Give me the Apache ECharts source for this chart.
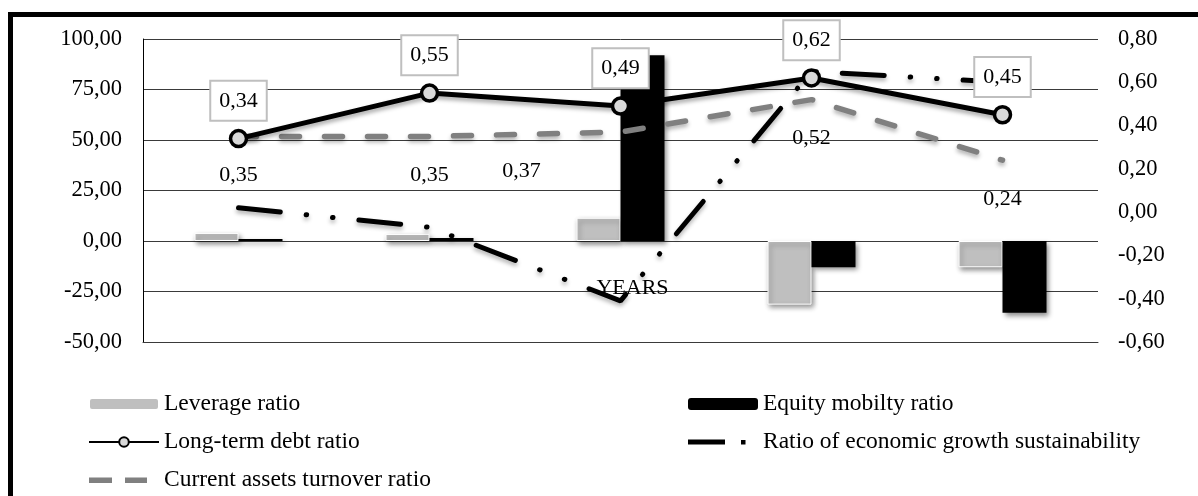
<!DOCTYPE html>
<html>
<head>
<meta charset="utf-8">
<script src="https://cdn.jsdelivr.net/npm/echarts@6/dist/echarts.min.js"></script>
<style>
  html, body { margin: 0; padding: 0; background: #fff; }
  #chart { width: 1198px; height: 496px; }
</style>
</head>
<body>
<div id="chart"></div>
<script>
// ---- data ----
var categories = ['Year 1', 'Year 2', 'Year 3', 'Year 4', 'Year 5'];
var leverageRatio = [4, 3.5, 11.5, -31.5, -13];
var equityMobilityRatio = [1, 1.5, 92, -13, -35.5];
var longTermDebtRatio = [0.34, 0.55, 0.49, 0.62, 0.45];
var currentAssetsTurnover = [0.35, 0.35, 0.37, 0.52, 0.24];
var growthSustainability = [0.02, -0.07, -0.41, 0.65, 0.60];
var leftTicks = { min: -50, max: 100, interval: 25 };
var rightTicks = { min: -0.6, max: 0.8, interval: 0.2 };

var FONT = 'Liberation Serif';
function comma(v) { return v.toFixed(2).replace('.', ','); }

var chart = echarts.init(document.getElementById('chart'), null, { renderer: 'canvas' });

var shadow = { shadowColor: 'rgba(0,0,0,0.45)', shadowBlur: 5, shadowOffsetX: 2, shadowOffsetY: 3 };

var currentData = currentAssetsTurnover.map(function (v, i) {
  var d = { value: v };
  if (i === 2) d.label = { offset: [-99, 0] };
  return d;
});

var legendText = { fontFamily: FONT, fontSize: 23.5, lineHeight: 24, color: '#000' };
var iconDashDot = 'path://M0,0L0,0M0,3.5h37v5h-37zM53,4h4.5v4.5h-4.5zM70,12L70,12';
var iconDashes = 'path://M0,0L0,0M0,3.5h23v5.5h-23zM36,3.5h22v5.5h-22zM70,12L70,12';

var option = {
  backgroundColor: '#fff',
  animation: false,
  textStyle: { fontFamily: FONT, color: '#000' },
  graphic: [{
    type: 'rect',
    shape: { x: 10.5, y: 14.5, width: 1220, height: 520 },
    style: { fill: null, stroke: '#000', lineWidth: 5 },
    silent: true
  }],
  grid: { left: 143, right: 100, top: 39, bottom: 154, containLabel: false },
  legend: [{
    orient: 'vertical',
    left: 88, top: 392, height: 104, padding: 0,
    itemWidth: 70, itemHeight: 12, itemGap: 14,
    textStyle: legendText,
    data: [
      { name: 'Leverage ratio' },
      { name: 'Long-term debt ratio' },
      { name: 'Current assets turnover ratio', icon: iconDashes }
    ]
  }, {
    orient: 'vertical',
    left: 688, top: 392, height: 104, padding: 0,
    itemWidth: 70, itemHeight: 12, itemGap: 14,
    textStyle: legendText,
    data: [
      { name: 'Equity mobilty ratio' },
      { name: 'Ratio of economic growth sustainability', icon: iconDashDot }
    ]
  }],
  xAxis: {
    type: 'category',
    data: categories,
    name: 'YEARS',
    nameLocation: 'middle',
    nameGap: -65,
    nameTextStyle: { fontFamily: FONT, fontSize: 22, color: '#000', padding: [0, 0, 0, 24] },
    axisLine: { show: true, onZero: false, lineStyle: { color: '#3a3a3a', width: 1 } },
    axisTick: { show: false },
    axisLabel: { show: false },
    splitLine: { show: false }
  },
  yAxis: [{
    type: 'value',
    min: leftTicks.min, max: leftTicks.max, interval: leftTicks.interval,
    axisLine: { show: true, lineStyle: { color: '#000', width: 1 } },
    axisTick: { show: false },
    axisLabel: { fontFamily: FONT, fontSize: 22.5, color: '#000', margin: 21, formatter: comma },
    splitLine: { show: true, lineStyle: { color: '#3a3a3a', width: 1 } }
  }, {
    type: 'value',
    position: 'right',
    min: rightTicks.min, max: rightTicks.max, interval: rightTicks.interval,
    axisLine: { show: false },
    axisTick: { show: false },
    axisLabel: { fontFamily: FONT, fontSize: 22.5, color: '#000', margin: 20,
      formatter: function (v) { return comma(Math.round(v * 100) / 100); } },
    splitLine: { show: false }
  }],
  series: [{
    name: 'Leverage ratio',
    type: 'bar',
    yAxisIndex: 0,
    barWidth: 44,
    barGap: '0%',
    z: 2,
    itemStyle: Object.assign({ color: '#bfbfbf', borderColor: '#ffffff', borderWidth: 1 }, shadow),
    data: leverageRatio
  }, {
    name: 'Equity mobilty ratio',
    type: 'bar',
    yAxisIndex: 0,
    barWidth: 44,
    barGap: '0%',
    z: 2,
    itemStyle: Object.assign({ color: '#000000' }, shadow),
    data: equityMobilityRatio
  }, {
    name: 'Current assets turnover ratio',
    type: 'line',
    yAxisIndex: 1,
    z: 3,
    symbol: 'circle',
    symbolSize: 0.1,
    itemStyle: { color: '#808080' },
    lineStyle: { color: '#808080', width: 5.5, type: [18, 25], cap: 'round',
      shadowColor: 'rgba(0,0,0,0.3)', shadowBlur: 4, shadowOffsetY: 3 },
    label: {
      show: true, position: 'bottom', distance: 27,
      fontFamily: FONT, fontSize: 22, lineHeight: 24, color: '#000',
      formatter: function (p) { return comma(p.value); }
    },
    data: currentData
  }, {
    name: 'Ratio of economic growth sustainability',
    type: 'line',
    yAxisIndex: 1,
    z: 4,
    symbol: 'none',
    itemStyle: { color: '#000' },
    lineStyle: { color: '#000', width: 5, type: [42, 26, 0.5, 26, 0.5, 26], cap: 'round',
      shadowColor: 'rgba(0,0,0,0.3)', shadowBlur: 4, shadowOffsetY: 3 },
    data: growthSustainability
  }, {
    name: 'Long-term debt ratio',
    type: 'line',
    yAxisIndex: 1,
    z: 5,
    symbol: 'circle',
    symbolSize: 16,
    itemStyle: { color: '#d9d9d9', borderColor: '#000', borderWidth: 3.5 },
    lineStyle: { color: '#000', width: 5,
      shadowColor: 'rgba(0,0,0,0.35)', shadowBlur: 4, shadowOffsetY: 3 },
    label: {
      show: true, position: 'top', distance: 9,
      fontFamily: FONT, fontSize: 22, lineHeight: 22, color: '#000',
      backgroundColor: '#fff', borderColor: '#bfbfbf', borderWidth: 2,
      padding: [8, 8, 8, 8],
      formatter: function (p) { return comma(p.value); }
    },
    data: longTermDebtRatio
  }]
};

chart.setOption(option);
</script>
</body>
</html>
